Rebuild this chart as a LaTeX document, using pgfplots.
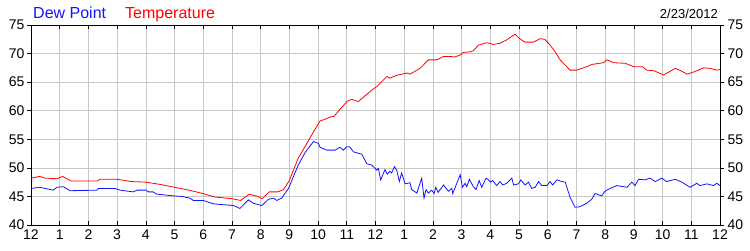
\documentclass[border=0pt]{standalone}
\usepackage{pgfplots}
\pgfplotsset{compat=1.18}
\usepackage{fontspec}
\setmainfont{Liberation Sans}
\definecolor{dpblue}{RGB}{20,20,255}
\definecolor{tred}{RGB}{255,0,0}
\definecolor{gridgray}{RGB}{200,200,200}
\begin{document}
\begin{tikzpicture}[x=1pt,y=1pt]
\useasboundingbox (-31,-25) rectangle (719,225);
\pgfplotsset{
  common/.style={
    scale only axis, width=689pt, height=200pt,
    at={(0,0)}, anchor=south west,
    xmin=0, xmax=24, ymin=40, ymax=75,
    xtick={0,1,...,24}, ytick={40,45,...,75},
    /pgf/number format/assume math mode=true,
    tick label style={font=\fontsize{14}{16}\selectfont, text=black},
    major tick length=4pt,
    tick style={black, line width=0.6pt},
    axis line style={black, line width=0.8pt},
  }
}
\begin{axis}[common,
  xtick pos=both, xtick align=inside,
  ytick pos=left, ytick align=outside,
  xticklabels={12,1,2,3,4,5,6,7,8,9,10,11,12,1,2,3,4,5,6,7,8,9,10,11,12},
  xticklabel style={yshift=-1pt},
  yticklabel style={xshift=1pt},
  grid=major, major grid style={gridgray, line width=0.6pt},
]
\addplot[tred, line width=0.8pt] coordinates {
(0,48.2)(0.3,48.5)(0.5,48.2)(0.9,48.1)(1.1,48.5)(1.4,47.7)(2.3,47.7)(2.4,48.0)(3.0,48.0)
(3.5,47.6)(4.0,47.5)(4.5,47.1)(5.0,46.6)(5.5,46.1)(6.0,45.5)(6.4,44.9)(7.0,44.6)(7.3,44.3)
(7.6,45.4)(7.9,45.0)(8.05,44.6)(8.3,45.8)(8.6,45.8)(8.8,46.2)(9.0,47.8)(9.3,51.6)(9.6,54.2)
(9.84,56.3)(10.07,58.2)(10.24,58.5)(10.42,58.9)(10.55,59.0)(11.0,61.6)(11.17,62.0)(11.4,61.6)
(11.87,63.6)(12.04,64.2)(12.4,66.0)(12.5,65.7)(12.74,66.2)(13.09,66.6)(13.2,66.4)(13.55,67.4)
(13.84,68.9)(14.14,68.9)(14.37,69.5)(14.6,69.5)(14.75,69.4)(14.95,69.75)(15.06,70.2)(15.3,70.3)
(15.41,70.5)(15.59,71.5)(15.88,71.9)(16.1,71.6)(16.34,71.8)(16.57,72.4)(16.86,73.4)(17.0,72.7)
(17.2,72.0)(17.5,72.0)(17.73,72.6)(17.9,72.5)(18.08,71.5)(18.26,70.3)(18.43,68.9)(18.78,67.1)
(19.0,67.1)(19.36,67.7)(19.54,68.1)(19.94,68.4)(20.06,68.9)(20.3,68.4)(20.7,68.3)(20.99,67.7)
(21.3,67.7)(21.45,67.1)(21.7,67.0)(22.03,66.25)(22.44,67.4)(22.6,67.1)(22.85,66.4)(23.1,66.8)
(23.43,67.5)(23.66,67.4)(23.89,67.1)(24.0,67.2)
};
\addplot[dpblue, line width=0.8pt] coordinates {
(0,46.4)(0.3,46.6)(0.78,46.1)(0.9,46.6)(1.13,46.7)(1.36,46.0)(2.3,46.1)(2.35,46.4)(2.93,46.4)
(3.1,46.1)(3.56,45.8)(3.7,46.1)(4.0,46.1)(4.1,45.8)(4.25,45.8)(4.38,45.4)(4.96,45.1)(5.25,45.0)
(5.54,44.7)(5.65,44.3)(6.0,44.3)(6.36,43.7)(6.83,43.5)(7.06,43.4)(7.28,42.9)(7.57,44.4)
(7.75,43.8)(8.04,43.4)(8.27,44.5)(8.45,44.7)(8.56,44.3)(8.73,44.7)(8.97,46.4)(9.31,50.5)
(9.55,52.7)(9.84,54.6)(10.01,54.3)(10.07,53.6)(10.3,53.1)(10.59,53.1)(10.76,53.6)(10.88,53.1)
(11.0,53.7)(11.1,53.7)(11.23,52.8)(11.52,52.4)(11.7,50.7)(11.87,50.5)(12.04,49.6)(12.1,49.9)
(12.18,47.9)(12.33,49.7)(12.41,48.9)(12.5,49.4)(12.56,49.1)(12.66,50.2)(12.74,49.6)(12.83,47.6)
(12.91,49.1)(13.03,47.2)(13.2,47.4)(13.26,46.2)(13.44,45.6)(13.61,48.2)(13.69,44.7)(13.76,46.2)
(13.84,45.6)(13.96,46.1)(14.04,45.5)(14.1,46.6)(14.18,45.7)(14.37,47.0)(14.54,45.9)(14.66,46.4)
(14.69,45.5)(14.95,48.8)(15.03,46.6)(15.12,47.3)(15.18,46.7)(15.27,48.0)(15.41,46.7)(15.5,46.2)
(15.61,47.8)(15.7,46.6)(15.85,48.2)(15.93,47.9)(16.01,47.5)(16.08,47.8)(16.22,46.9)(16.34,47.6)
(16.43,47.0)(16.57,47.3)(16.75,48.2)(16.81,47.0)(16.98,47.2)(17.06,47.9)(17.21,47.0)(17.33,47.5)
(17.44,46.4)(17.56,46.6)(17.68,47.6)(17.79,46.9)(17.97,46.9)(18.08,47.6)(18.17,47.0)(18.32,47.9)
(18.49,47.6)(18.61,47.5)(18.78,44.8)(18.95,43.1)(19.12,43.2)(19.36,43.8)(19.53,44.5)(19.65,45.5)
(19.88,45.1)(19.99,45.9)(20.17,46.4)(20.41,46.9)(20.76,46.6)(20.93,47.5)(21.04,46.9)(21.16,48.0)
(21.39,47.9)(21.56,48.2)(21.74,47.6)(21.97,48.2)(22.14,47.6)(22.44,48.0)(22.67,47.5)(22.96,46.6)
(23.19,47.3)(23.3,46.9)(23.54,47.2)(23.77,46.9)(23.89,47.3)(24.0,46.9)
};
\end{axis}
\begin{axis}[common,
  axis x line=none,
  axis y line*=right, ytick align=outside,
  ytick pos=right,
]
\addplot[draw=none] coordinates {(0,40)};
\end{axis}
\node[anchor=base west, inner sep=0pt, text=dpblue, font=\fontsize{16}{18}\selectfont] at (2,207) {Dew Point};
\node[anchor=base west, inner sep=0pt, text=tred, font=\fontsize{16}{18}\selectfont] at (94,207) {Temperature};
\node[anchor=base east, inner sep=0pt, text=black, font=\fontsize{13}{15}\selectfont] at (687,207) {2/23/2012};
\end{tikzpicture}
\end{document}
